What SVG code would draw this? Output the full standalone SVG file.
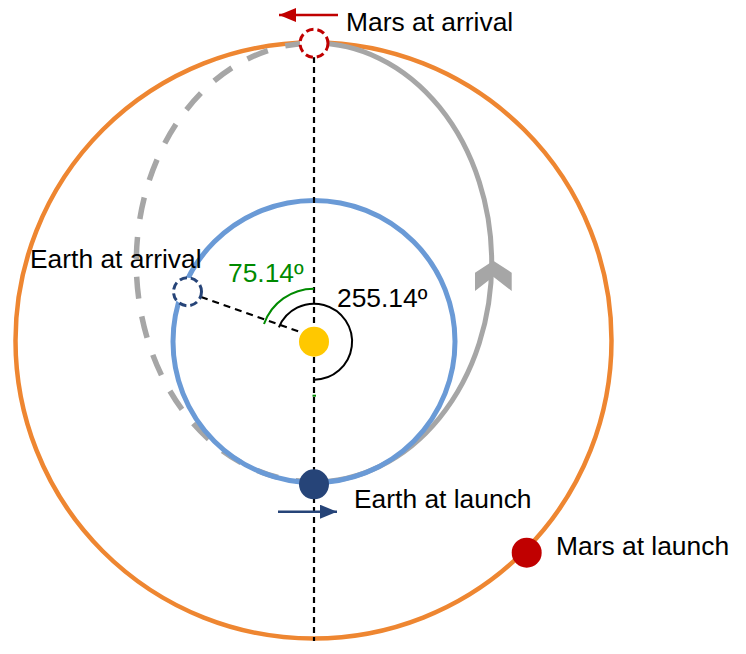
<svg xmlns="http://www.w3.org/2000/svg" width="746" height="654" viewBox="0 0 746 654">
  <defs>
    <style>
      .lbl { font-family: "Liberation Sans", Arial, sans-serif; font-size: 26.4px; fill: #000; }
      .orbit { fill: none; }
      .guide { stroke: #000; stroke-width: 2.2; fill: none; }
    </style>
    <marker id="arrRed" markerUnits="userSpaceOnUse" markerWidth="18" markerHeight="14" refX="17" refY="7" orient="auto">
      <polygon points="0,0 17,7 0,14" fill="#C00000"/>
    </marker>
    <marker id="arrBlue" markerUnits="userSpaceOnUse" markerWidth="18" markerHeight="14" refX="17" refY="7" orient="auto">
      <polygon points="0,0 17,7 0,14" fill="#264478"/>
    </marker>
  </defs>
  <rect width="746" height="654" fill="#fff"/>

  <g id="mars-orbit">
    <circle class="orbit" cx="313.5" cy="340.5" r="298" stroke="#EE8631" stroke-width="4.5"/>
  </g>

  <g id="transfer-orbit">
    <path d="M 314 43 A 177.7 219.5 0 0 1 314 482" fill="none" stroke="#A6A6A6" stroke-width="5"/>
    <path d="M 314 43 A 177.7 219.5 0 0 0 314 482" fill="none" stroke="#A6A6A6" stroke-width="5.5" stroke-dasharray="22 18" stroke-dashoffset="-7"/>
    <polygon points="493.3,260.7 511.7,272.7 511.7,291 493.3,276.7 475,291 475,272.7" fill="#A6A6A6"/>
  </g>

  <g id="earth-orbit">
    <circle class="orbit" cx="314" cy="341.5" r="141" stroke="#6A9AD6" stroke-width="5"/>
  </g>

  <g id="connectors">
    <line class="guide" x1="314" y1="57" x2="314" y2="641" stroke-dasharray="6 4"/>
    <line class="guide" x1="201" y1="297" x2="303" y2="333" stroke-dasharray="7 5"/>
    <path d="M 314 288.7 A 53 53 0 0 0 264 324" fill="none" stroke="#008A00" stroke-width="2"/>
    <path d="M 278.9 327.3 A 38 38 0 1 1 314 379.7" fill="none" stroke="#000" stroke-width="2"/>
    <line x1="312.5" y1="395.7" x2="316" y2="395.7" stroke="#008A00" stroke-width="2"/>
    <line x1="338" y1="15" x2="279" y2="15" stroke="#C00000" stroke-width="2.5" marker-end="url(#arrRed)"/>
    <line x1="278" y1="511.7" x2="337" y2="511.7" stroke="#264478" stroke-width="2.5" marker-end="url(#arrBlue)"/>
  </g>

  <g id="sun">
    <circle cx="314" cy="341.7" r="15" fill="#FFC800"/>
  </g>

  <g id="mars-arrival">
    <circle cx="314" cy="43.3" r="14" fill="#fff" stroke="#C00000" stroke-width="3" stroke-dasharray="7.5 4"/>
    <text class="lbl" x="346" y="31">Mars at arrival</text>
  </g>

  <g id="earth-arrival">
    <circle cx="187.5" cy="291.7" r="14" fill="#fff" stroke="#264478" stroke-width="3" stroke-dasharray="7.5 4"/>
    <text class="lbl" x="30" y="268">Earth at arrival</text>
  </g>

  <g id="earth-launch">
    <circle cx="314" cy="484.3" r="15" fill="#264478"/>
    <text class="lbl" x="354" y="508">Earth at launch</text>
  </g>

  <g id="mars-launch">
    <circle cx="526.7" cy="552.7" r="15" fill="#C00000"/>
    <text class="lbl" x="556" y="555">Mars at launch</text>
  </g>

  <g id="angle-labels">
    <text class="lbl" x="228" y="282" style="fill:#008A00">75.14º</text>
    <text class="lbl" x="337" y="307">255.14º</text>
  </g>
</svg>
